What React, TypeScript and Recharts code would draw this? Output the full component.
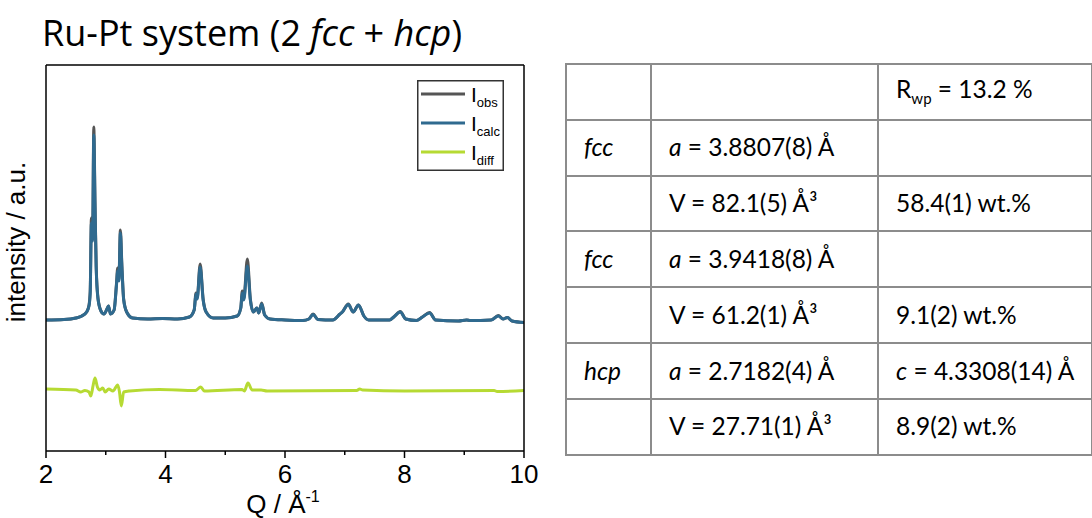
import { Line, LineChart, XAxis, YAxis, Legend } from "recharts"

// Q positions (Å^-1) of the observed / calculated pattern
const qPattern = [
  2.0, 2.3, 2.5, 2.6, 2.68, 2.72, 2.74, 2.76, 2.78, 2.8, 2.82, 2.84, 2.87, 2.92, 2.97, 3.02, 3.045, 3.08, 3.14,
  3.18, 3.2, 3.22, 3.245, 3.27, 3.3, 3.35, 3.45, 3.7, 3.95, 4.2, 4.4, 4.48, 4.51, 4.53, 4.58, 4.63, 4.68, 4.8,
  5.0, 5.2, 5.26, 5.285, 5.31, 5.37, 5.42, 5.47, 5.53, 5.56, 5.61, 5.66, 5.75, 6.0, 6.3, 6.4, 6.47, 6.55, 6.8,
  6.92, 6.96, 7.06, 7.14, 7.23, 7.32, 7.4, 7.75, 7.82, 7.93, 8.02, 8.2, 8.3, 8.42, 8.52, 8.9, 9.04, 9.1, 9.45,
  9.57, 9.65, 9.72, 9.8, 10.0,
]
const obsValues = [
  131, 131.5, 133, 135, 139, 146, 160, 233, 214, 324, 250, 185, 153, 140, 137, 142, 145, 137, 141,
  168, 183, 172, 221, 186, 152, 139, 133, 132, 132.5, 132, 134, 141, 158, 153, 187, 152, 139, 133,
  133, 135, 143, 160, 152, 192, 152, 139, 143, 138, 148, 136, 132, 131, 130.5, 132, 137, 131.5, 131,
  137, 139, 147, 139, 146, 135, 131, 131, 134, 139.5, 132, 130.5, 134, 138.5, 131, 130, 131, 130.5, 131,
  135.5, 132, 133.5, 130, 128.5,
]
const calcValues = [
  131, 131.5, 133, 135, 139, 145, 158, 228, 210, 316, 246, 183, 152, 140, 137, 142, 145, 137, 141,
  166, 180, 170, 218, 184, 151, 139, 133, 132, 132.5, 132, 134, 141, 157, 152, 184, 151, 139, 133,
  133, 135, 143, 158, 151, 185, 151, 139, 143, 138, 147, 136, 132, 131, 130.5, 132, 136.5, 131.5, 131,
  137, 139, 146.5, 139, 146, 135, 131, 131, 134, 139, 132, 130.5, 134, 138, 131, 130, 131, 130.5, 131,
  135, 132, 133.5, 130, 128.5,
]

// difference curve (offset below the pattern)
const qDiff = [
  2.0, 2.5, 2.58, 2.65, 2.72, 2.75, 2.79, 2.82, 2.86, 2.9, 2.95, 2.99, 3.05, 3.12, 3.2, 3.23, 3.26, 3.3, 3.4,
  3.9, 4.5, 4.59, 4.65, 5.28, 5.32, 5.38, 5.45, 5.6, 5.7, 7.2, 7.25, 7.3, 8.0, 9.5, 9.55, 10.0,
]
const diffValues = [
  62, 61, 59, 60.5, 59, 55, 66, 73, 64, 61, 63, 59, 62, 60, 66, 59, 45, 59, 60,
  61.5, 60.5, 64, 60, 61.5, 60, 68, 61, 61, 60, 60.5, 62, 61, 60, 60.5, 59.5, 60.5,
]

const qTicks = [2, 3, 4, 5, 6, 7, 8, 9, 10]

const legendItems = [
  { name: "I", sub: "obs", color: "#555555" },
  { name: "I", sub: "calc", color: "#2f6a8f" },
  { name: "I", sub: "diff", color: "#b6da33" },
]

const tableRows = [
  [null, null, <>R<sub style={{ fontSize: 15 }}>wp</sub> = 13.2 %</>],
  [<i>fcc</i>, <><i>a</i> = 3.8807(8) Å</>, null],
  [null, <>V = 82.1(5) Å³</>, "58.4(1) wt.%"],
  [<i>fcc</i>, <><i>a</i> = 3.9418(8) Å</>, null],
  [null, <>V = 61.2(1) Å³</>, "9.1(2) wt.%"],
  [<i>hcp</i>, <><i>a</i> = 2.7182(4) Å</>, <><i>c</i> = 4.3308(14) Å</>],
  [null, <>V = 27.71(1) Å³</>, "8.9(2) wt.%"],
]

const patternData = qPattern.map((q, i) => ({ q, obs: obsValues[i], calc: calcValues[i] }))
const diffData = qDiff.map((q, i) => ({ q, diff: diffValues[i] }))

const axisFont = "'Liberation Sans', Arial, sans-serif"

const QTick = (props: any) => {
  const { x, y, payload } = props
  const major = payload.value % 2 === 0
  return (
    <g>
      <line x1={x} x2={x} y1={y} y2={y + (major ? 7 : 4)} stroke="#000" strokeWidth={1.5} />
      {major && (
        <text x={x} y={y + 32} textAnchor="middle" fontSize={26} fill="#000" fontFamily={axisFont}>
          {payload.value}
        </text>
      )}
    </g>
  )
}

const XTitle = (props: any) => {
  const vb = props.viewBox
  return (
    <text x={vb.x + vb.width / 2 - 2} y={vb.y + 62} textAnchor="middle" fontSize={26} fill="#000" fontFamily={axisFont}>
      Q / Å
      <tspan dy={-11} fontSize={16}>-1</tspan>
    </text>
  )
}

const YTitle = (props: any) => {
  const vb = props.viewBox
  const cx = vb.x - 20
  const cy = vb.y + vb.height / 2 - 16
  return (
    <text x={cx} y={cy} transform={`rotate(-90 ${cx} ${cy})`} textAnchor="middle" fontSize={26} fill="#000" fontFamily={axisFont}>
      intensity / a.u.
    </text>
  )
}

const PatternLegend = () => (
  <svg width={87} height={91}>
    <rect x={0.75} y={0.75} width={85.5} height={89.5} fill="#fff" stroke="#333" strokeWidth={1.5} />
    {legendItems.map((item, i) => {
      const cy = 14 + i * 29
      return (
        <g key={item.sub}>
          <line x1={4} x2={48} y1={cy} y2={cy} stroke={item.color} strokeWidth={3} />
          <text x={54} y={cy + 7.5} fontSize={21} fill="#000" fontFamily={axisFont}>
            {item.name}
            <tspan dy={5} fontSize={13}>{item.sub}</tspan>
          </text>
        </g>
      )
    })}
  </svg>
)

export default function App() {
  return (
    <div style={{ position: "fixed", left: 0, top: 0, width: 1092, height: 518, background: "#fff", overflow: "hidden" }}>
      <div
        style={{
          position: "absolute",
          left: 42,
          top: 15,
          fontFamily: "'Open Sans', sans-serif",
          fontSize: 36,
          lineHeight: "36px",
          color: "#000",
          whiteSpace: "nowrap",
        }}
      >
        Ru-Pt system (2 <i>fcc</i> + <i>hcp</i>)
      </div>

      <div style={{ position: "absolute", left: 0, top: 0 }}>
        <LineChart width={560} height={518} margin={{ top: 64, right: 35, left: 45, bottom: 37 }}>
          <XAxis
            dataKey="q"
            type="number"
            domain={[2, 10]}
            ticks={qTicks}
            interval={0}
            tick={<QTick />}
            tickLine={false}
            tickSize={0}
            tickMargin={0}
            height={30}
            axisLine={{ stroke: "#000", strokeWidth: 1.5 }}
            allowDataOverflow
            label={{ content: <XTitle /> }}
          />
          <XAxis
            xAxisId="top"
            orientation="top"
            dataKey="q"
            type="number"
            domain={[2, 10]}
            height={1}
            tick={false}
            tickLine={false}
            axisLine={{ stroke: "#000", strokeWidth: 1.5 }}
          />
          <YAxis
            type="number"
            domain={[0, 386]}
            width={1}
            tick={false}
            tickLine={false}
            axisLine={{ stroke: "#000", strokeWidth: 1.5 }}
            label={{ content: <YTitle /> }}
          />
          <YAxis
            yAxisId="right"
            orientation="right"
            type="number"
            domain={[0, 386]}
            width={1}
            tick={false}
            tickLine={false}
            axisLine={{ stroke: "#000", strokeWidth: 1.5 }}
          />
          <Legend
            layout="vertical"
            align="center"
            verticalAlign="middle"
            content={<PatternLegend />}
            wrapperStyle={{ position: "absolute", top: 80, left: 417, width: 87, height: 91 }}
          />
          <Line
            data={patternData}
            dataKey="obs"
            name="obs"
            type="monotone"
            stroke="#555555"
            strokeWidth={3}
            dot={false}
            isAnimationActive={false}
          />
          <Line
            data={patternData}
            dataKey="calc"
            name="calc"
            type="monotone"
            stroke="#2f6a8f"
            strokeWidth={3}
            dot={false}
            isAnimationActive={false}
          />
          <Line
            data={diffData}
            dataKey="diff"
            name="diff"
            type="monotone"
            stroke="#b6da33"
            strokeWidth={3}
            dot={false}
            isAnimationActive={false}
          />
        </LineChart>
      </div>

      <table
        style={{
          position: "absolute",
          left: 565,
          top: 63,
          width: 526,
          height: 391,
          borderCollapse: "collapse",
          fontFamily: "Lato, sans-serif",
          fontSize: 24.5,
          color: "#000",
          tableLayout: "fixed",
        }}
      >
        <colgroup>
          <col style={{ width: 85 }} />
          <col style={{ width: 227 }} />
          <col style={{ width: 214 }} />
        </colgroup>
        <tbody>
          {tableRows.map((row, r) => (
            <tr key={r} style={{ height: 55.8 }}>
              {row.map((cell, c) => (
                <td
                  key={c}
                  style={{
                    border: "2px solid #8c8c8c",
                    padding: "0 0 0 17px",
                    whiteSpace: "nowrap",
                    verticalAlign: "middle",
                    lineHeight: 1,
                  }}
                >
                  {cell}
                </td>
              ))}
            </tr>
          ))}
        </tbody>
      </table>
    </div>
  )
}
